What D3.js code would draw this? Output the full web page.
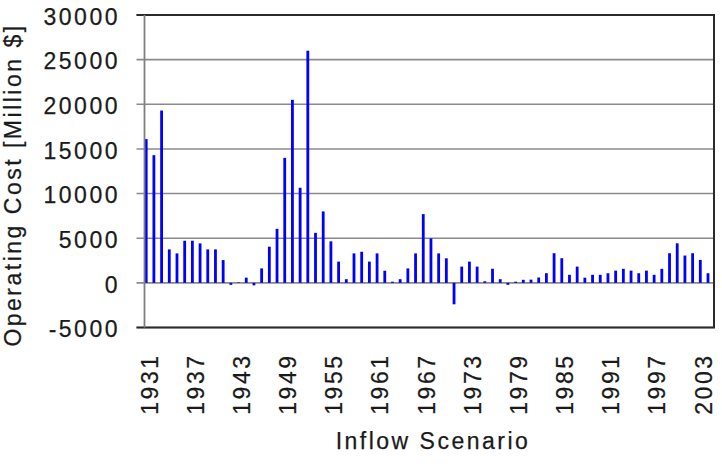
<!DOCTYPE html>
<html>
<head>
<meta charset="utf-8">
<script src="https://cdn.jsdelivr.net/npm/d3@7"></script>
<style>
  body { margin: 0; background: #fff; }
  text { font-family: "Liberation Sans", Arial, sans-serif; fill: #1a1a1a; stroke: #1a1a1a; stroke-width: 0.25px; }
</style>
</head>
<body>
<div id="chart"></div>
<script>
// inflow scenario years (one bar per year), labelled every 6th year
var years = d3.range(1931, 2005);
var xLabels = [1931, 1937, 1943, 1949, 1955, 1961, 1967, 1973, 1979, 1985, 1991, 1997, 2003];
var yTicks = [-5000, 0, 5000, 10000, 15000, 20000, 25000, 30000];

// operating cost [million $]
var cost = [
  16100, 14300, 19300, 3750, 3300, 4720, 4720, 4420, 3750, 3750,
  2550, -220, 50, 580, -280, 1620, 4050, 6050, 14000, 20500,
  10650, 26000, 5600, 8000, 4650, 2380, 410, 3300, 3480, 2380,
  3300, 1360, 130, 410, 1620, 3300, 7700, 4980, 3300, 2750,
  -2400, 1820, 2380, 1820, 180, 1580, 410, -220, 130, 340,
  360, 600, 1080, 3320, 2760, 900, 1820, 580, 900, 900,
  1080, 1370, 1570, 1370, 1080, 1370, 900, 1570, 3320, 4430,
  3060, 3320, 2570, 1080
];

var data = years.map(function (y, i) { return {year: y, value: cost[i]}; });

var W = 722, H = 470;
var plot = {left: 144.5, right: 714, top: 15, bottom: 327.5};

var svg = d3.select("#chart").append("svg")
    .attr("width", W)
    .attr("height", H);

var x = d3.scaleBand()
    .domain(years)
    .range([plot.left, plot.right])
    .padding(0);

var y = d3.scaleLinear()
    .domain([-5000, 30000])
    .range([plot.bottom, plot.top]);

var fs = "23px", ls = "2.5px";

// gridlines (with the little tick stubs on the left)
svg.append("g")
  .selectAll("line")
  .data(yTicks)
  .enter()
  .append("line")
    .attr("x1", plot.left - 8)
    .attr("x2", plot.right)
    .attr("y1", function (d) { return y(d); })
    .attr("y2", function (d) { return y(d); })
    .attr("stroke", "#8a8a8a")
    .attr("stroke-width", 1.6);

// bars
var bw = 2.8;
svg.append("g")
  .selectAll("rect")
  .data(data)
  .enter()
  .append("rect")
    .attr("x", function (d) { return x(d.year) + 0.3; })
    .attr("width", bw)
    .attr("y", function (d) { return y(Math.max(0, d.value)); })
    .attr("height", function (d) { return Math.abs(y(d.value) - y(0)); })
    .attr("fill", "#0000ff");

// frame: dark top / right / bottom, grey value axis on the left
svg.append("path")
    .attr("d", "M" + (plot.left - 8) + "," + plot.top + "H" + plot.right +
               "V" + plot.bottom + "H" + (plot.left - 8))
    .attr("fill", "none")
    .attr("stroke", "#2a2a2a")
    .attr("stroke-width", 2);

svg.append("line")
    .attr("x1", plot.left).attr("x2", plot.left)
    .attr("y1", plot.top).attr("y2", plot.bottom)
    .attr("stroke", "#7f7f7f")
    .attr("stroke-width", 1.8);

// y tick labels
svg.append("g")
  .selectAll("text")
  .data(yTicks)
  .enter()
  .append("text")
    .attr("x", 120)
    .attr("y", function (d) { return y(d) + 9.7; })
    .attr("text-anchor", "end")
    .style("font-size", fs)
    .style("letter-spacing", ls)
    .text(function (d) { return d; });

// x tick labels, rotated
svg.append("g")
  .selectAll("text")
  .data(xLabels)
  .enter()
  .append("text")
    .attr("transform", function (d) {
      return "translate(" + (x(d) + x.bandwidth() / 2 + 1) + ",353.5) rotate(-90)";
    })
    .attr("y", 8.2)
    .attr("text-anchor", "end")
    .style("font-size", fs)
    .style("letter-spacing", ls)
    .text(function (d) { return d; });

// axis titles
svg.append("text")
    .attr("x", 433)
    .attr("y", 449)
    .attr("text-anchor", "middle")
    .style("font-size", fs)
    .style("letter-spacing", ls)
    .text("Inflow Scenario");

svg.append("text")
    .attr("transform", "translate(20.5,185) rotate(-90)")
    .attr("text-anchor", "middle")
    .style("font-size", fs)
    .style("letter-spacing", ls)
    .text("Operating Cost [Million $]");
</script>
</body>
</html>
